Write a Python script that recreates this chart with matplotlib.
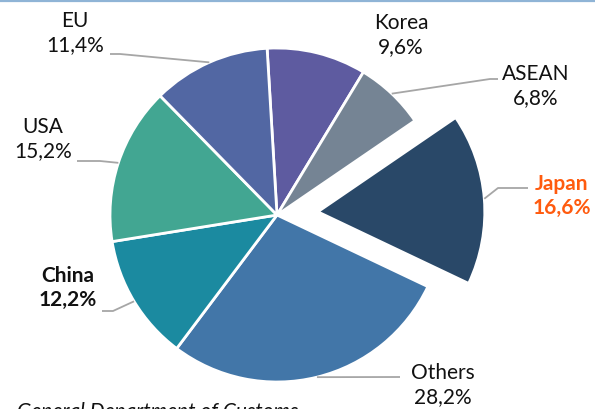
import matplotlib
matplotlib.use("Agg")
import matplotlib.pyplot as plt
import numpy as np

# clockwise from the top
names = ["Korea", "ASEAN", "Japan", "Others", "China", "USA", "EU"]
shares = [9.6, 6.8, 16.6, 28.2, 12.2, 15.2, 11.4]
colors = ["#5E5BA0", "#758494", "#294868", "#4276A8", "#1B8AA0", "#42A692", "#5267A3"]
source = "General Department of Customs"

W, H = 595, 409
cx, cy, R = 277, H - 215, 167
start = 93.4
# pie() adds explode in data units, so scale by the radius
explode = [0.245 * R if n == "Japan" else 0 for n in names]

# label layout: (text x, text y, elbow x, elbow y), in pixels from the top-left
layout = {
    "EU": (75, 33, 120, 54),
    "Korea": (401, 35, None, None),
    "ASEAN": (536, 86, 490, 79),
    "Japan": (562, 196, 498, 188),
    "USA": (43, 139, 100, 161),
    "China": (68, 288, 113, 311),
    "Others": (443, 385, 400, 377),
}
label_end = {"EU": 110, "ASEAN": 498, "Japan": 528, "USA": 77, "China": 102, "Others": 400}

fig = plt.figure(figsize=(W / 100, H / 100), dpi=100)
ax = fig.add_axes([0, 0, 1, 1])

wedges, _ = ax.pie(shares, colors=colors, startangle=start, counterclock=False,
                   explode=explode, center=(cx, cy), radius=R,
                   wedgeprops=dict(edgecolor="white", linewidth=2.0))
ax.set_xlim(0, W)
ax.set_ylim(0, H)
ax.set_aspect("equal")
ax.axis("off")

for w, name, val in zip(wedges, names, shares):
    mid = np.deg2rad((w.theta1 + w.theta2) / 2)
    wx, wy = w.center
    px, py = wx + R * np.cos(mid), wy + R * np.sin(mid)
    tx, ty, ex, ey = layout[name]
    bold = name in ("China", "Japan")
    col = "#FF5B0F" if name == "Japan" else "#111111"
    ax.text(tx, H - ty, f"{name}\n{val:.1f}%".replace(".", ","), ha="center", va="center",
            fontsize=15, family="Lato", fontweight="bold" if bold else "normal",
            color=col, linespacing=1.3)
    if ex is not None:
        ax.plot([px, ex, label_end[name]], [py, H - ey, H - ey], color="#A6A6A6", lw=1.3,
                solid_capstyle="butt")

ax.text(17, H - 402, source, ha="left", va="top", fontsize=15, family="Lato",
        style="italic", color="#111111")
ax.axhline(H - 0.8, color="#8FB4D6", lw=1.6)

fig.savefig("out.png", dpi=100)
